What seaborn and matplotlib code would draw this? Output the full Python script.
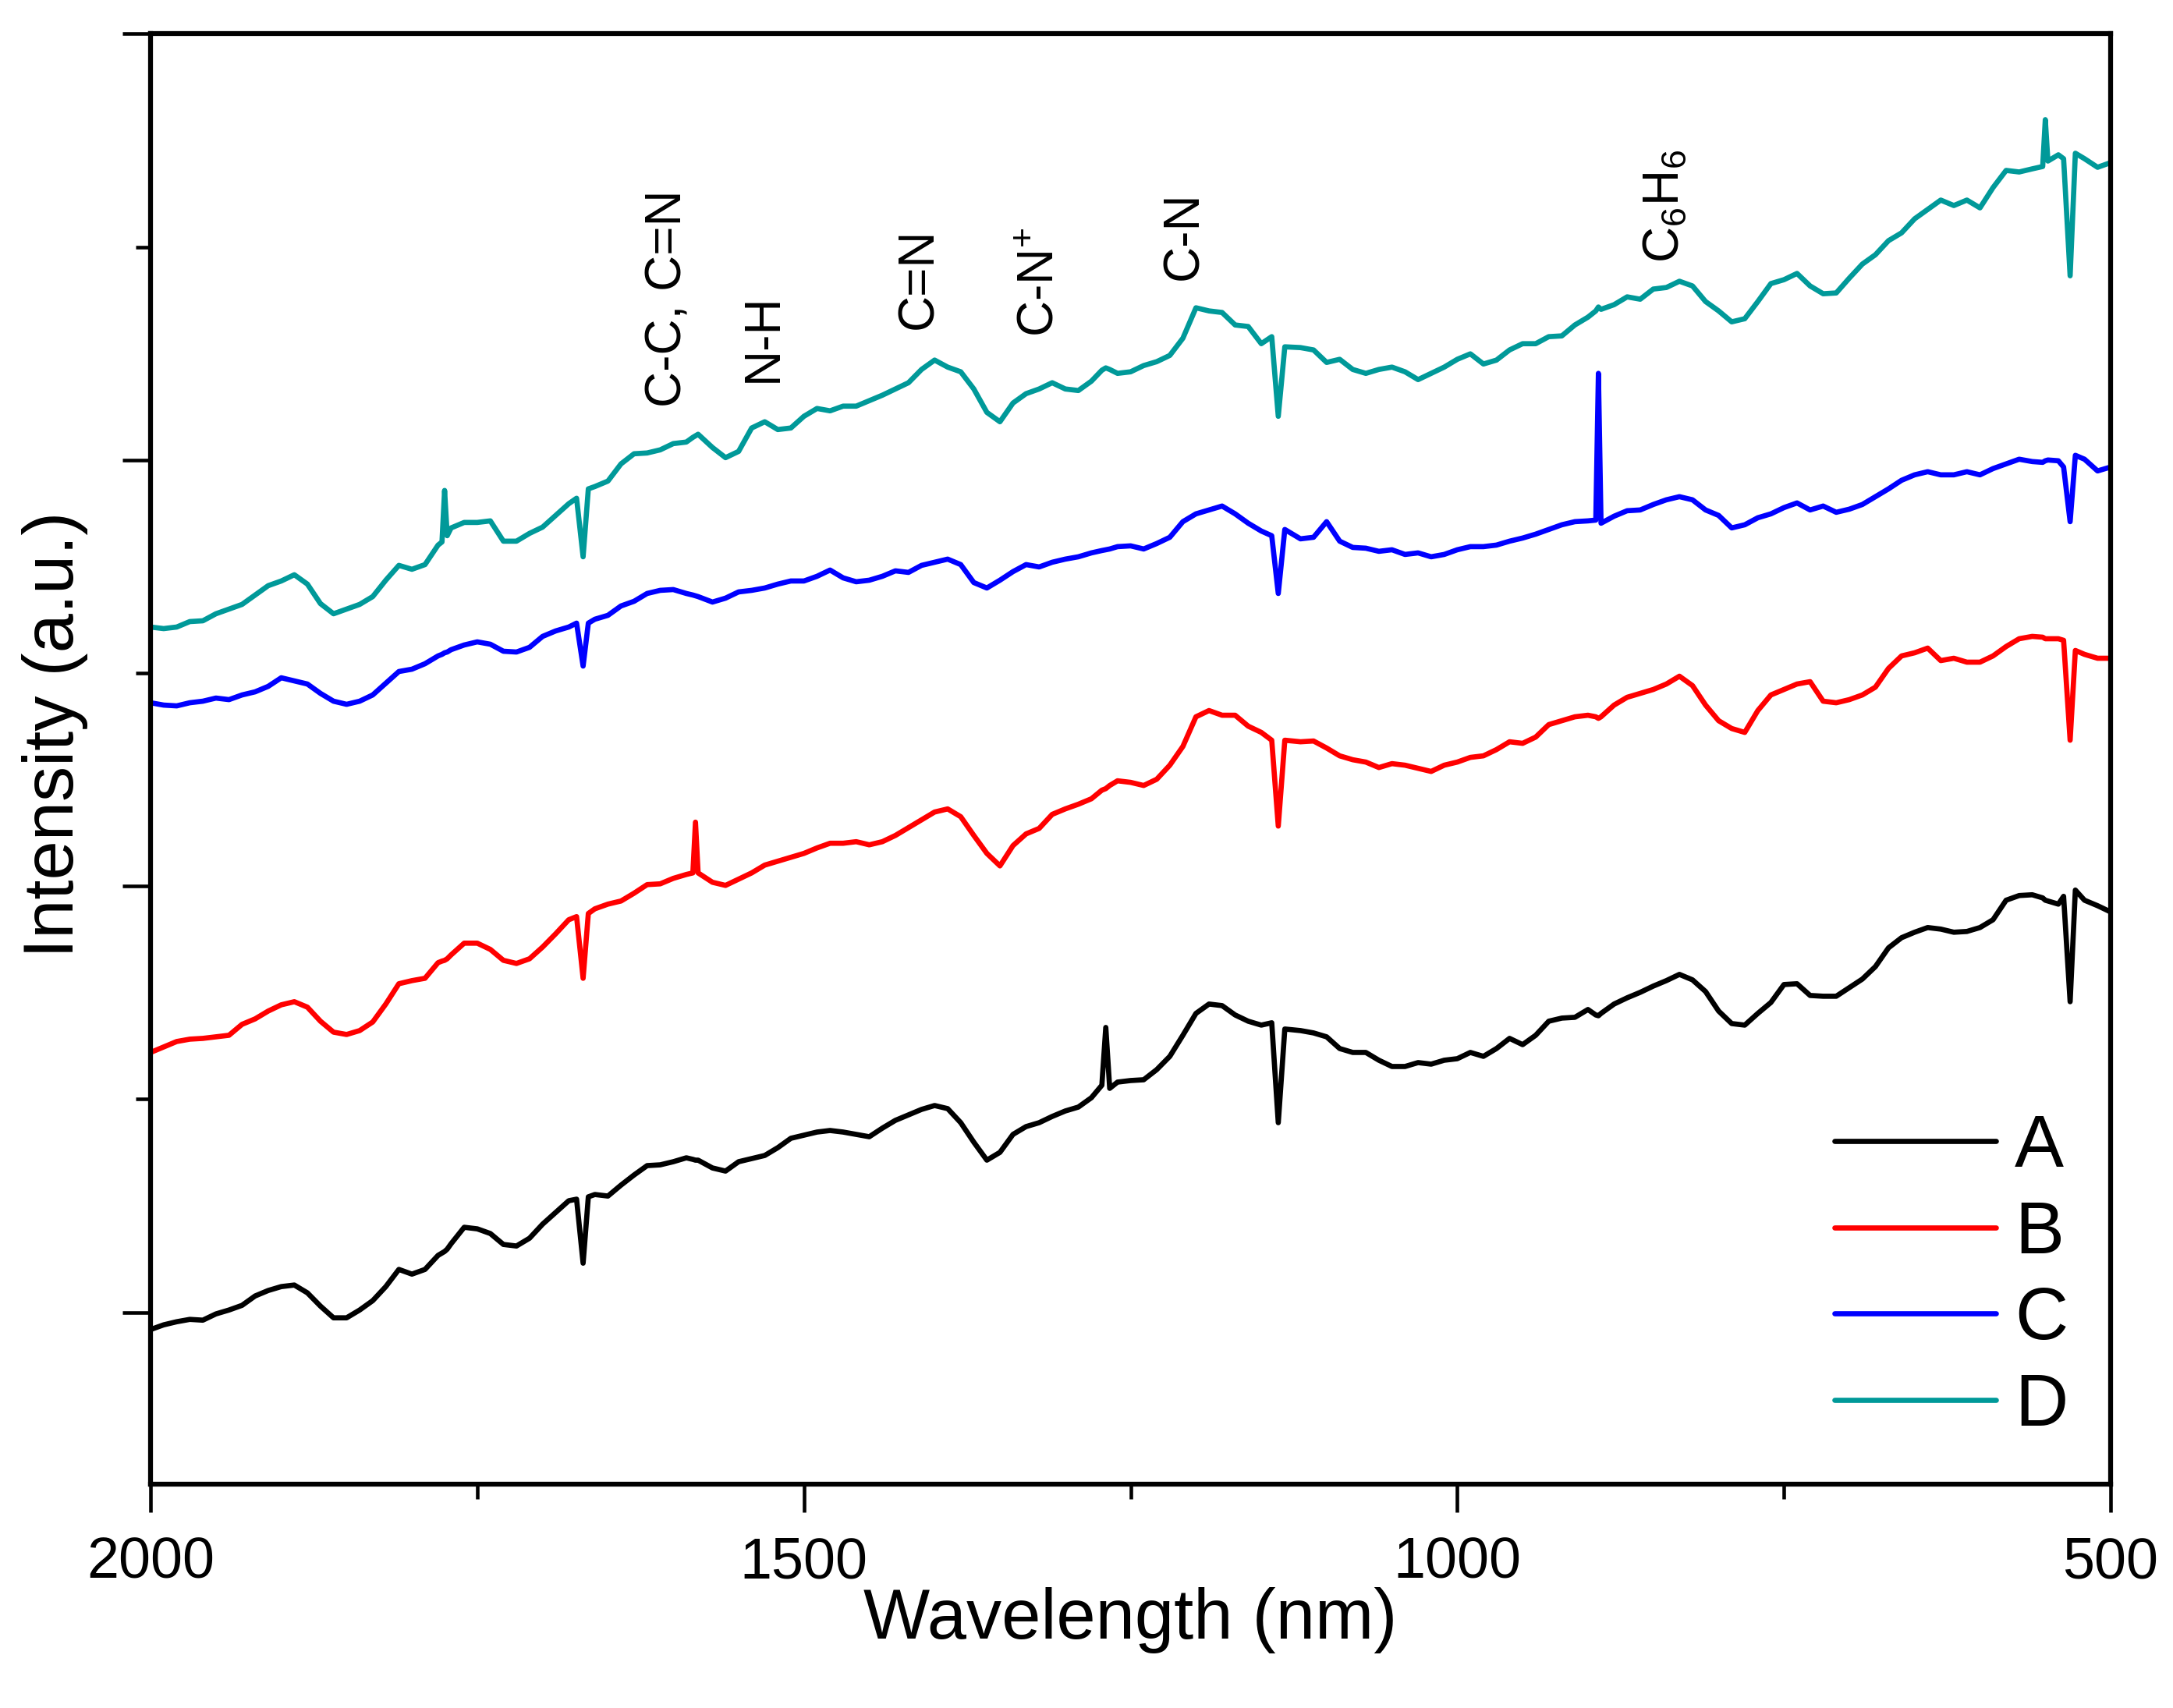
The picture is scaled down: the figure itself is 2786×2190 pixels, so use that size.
import numpy as np
import pandas as pd
import matplotlib
matplotlib.use("Agg")
import matplotlib.pyplot as plt
from matplotlib.ticker import FixedLocator
import seaborn as sns

# spectra (intensity in arbitrary units)
wavelength = [
    2000, 1990, 1980, 1970, 1960, 1950, 1940, 1930, 1920, 1910,
    1900, 1890, 1880, 1870, 1860, 1850, 1840, 1830, 1820, 1810,
    1800, 1790, 1780, 1777, 1775, 1773, 1770, 1760, 1750, 1740,
    1730, 1720, 1710, 1700, 1690, 1680, 1674, 1669, 1665, 1660,
    1650, 1640, 1630, 1620,
    1610, 1600, 1590, 1585, 1583, 1581, 1570, 1560, 1550, 1540,
    1530, 1520, 1510, 1500, 1490, 1480, 1470, 1460, 1450, 1440,
    1430, 1420, 1410, 1400, 1390, 1380, 1370, 1360, 1350, 1340,
    1330, 1320, 1310, 1300, 1290, 1280, 1272, 1269, 1266, 1260,
    1250,
    1240, 1230, 1220, 1210, 1200, 1190, 1180, 1170, 1160, 1150,
    1142, 1137, 1132, 1120, 1110, 1100, 1090, 1080, 1070, 1060,
    1050, 1040, 1030, 1020, 1010, 1000, 990, 980, 970, 960,
    950, 940, 930, 920, 910, 900, 894, 892, 890, 880,
    870,
    860, 850, 840, 830, 820, 810, 800, 790, 780, 770,
    760, 750, 740, 730, 720, 710, 700, 690, 680, 670,
    660, 650, 640, 630, 620, 610, 600, 590, 580, 570,
    560, 552, 550, 548, 540, 536, 531, 527, 520, 510,
    500]

int_A = [
    -22, -16, -12, -9, -10, -2, 3, 9, 21, 28,
    33, 35, 25, 8, -7, -7, 3, 15, 33, 55,
    49, 55, 73, 76, 78, 81, 88, 109, 107, 101,
    87, 85, 95, 113, 128, 143, 145, 63, 148, 151,
    149, 163, 176, 188,
    189, 193, 198, 196, 195, 195, 185, 181, 193, 197,
    201, 211, 223, 227, 231, 233, 231, 228, 225, 236,
    246, 253, 260, 265, 261, 243, 218, 195, 205, 228,
    238, 243, 251, 258, 263, 275, 291, 365, 287, 295,
    297,
    298, 311, 328, 355, 383, 395, 393, 381, 373, 368,
    371, 243, 363, 361, 358, 353, 338, 333, 333, 323,
    315, 315, 320, 318, 323, 325, 333, 328, 338, 351,
    343, 355, 373, 377, 378, 388, 381, 380, 383, 395,
    403,
    410, 418, 425, 433, 426, 411, 386, 370, 368, 383,
    397, 420, 421, 406, 405, 405, 416, 427, 443, 467,
    480, 487, 493, 491, 487, 488, 493, 503, 528, 534,
    535, 531, 528, 527, 523, 533, 398, 541, 528, 521,
    513]

int_B = [
    333, 340, 347, 350, 351, 353, 355, 369, 376, 386,
    394, 398, 391, 373, 359, 356, 361, 372, 395, 421,
    425, 428, 448, 450, 451, 453, 458, 473, 473, 465,
    451, 447, 453, 468, 485, 503, 507, 428, 511, 517,
    523, 527, 537, 548,
    549, 556, 561, 563, 628, 563, 551, 547, 555, 563,
    573, 578, 583, 588, 595, 601, 601, 603, 599, 603,
    611, 621, 631, 641, 645, 635, 611, 588, 572, 598,
    613, 620, 638, 645, 651, 658, 669, 671, 675, 681,
    679,
    675, 683, 701, 725, 763, 771, 765, 765, 751, 743,
    733, 623, 733, 731, 732, 723, 713, 708, 705, 698,
    703, 701, 697, 693, 701, 705, 711, 713, 721, 731,
    729, 737, 753, 758, 763, 765, 763, 761, 763, 778,
    788,
    793, 798, 805, 815, 803, 778, 758, 748, 743, 771,
    791, 798, 805, 808, 783, 781, 785, 791, 801, 825,
    841, 845, 851, 835, 838, 833, 833, 841, 853, 863,
    866, 865, 863, 863, 863, 861, 733, 848, 843, 838,
    838]

int_C = [
    781, 778, 777, 781, 783, 787, 785, 791, 795, 802,
    813, 809, 805, 793, 783, 779, 783, 791, 806, 821,
    824, 831, 841, 843, 845, 846, 849, 855, 859, 856,
    847, 846, 852, 866, 873, 878, 883, 828, 883, 888,
    893, 905, 911, 921,
    925, 926, 921, 919, 918, 917, 910, 915, 923, 925,
    928, 933, 937, 937, 943, 951, 941, 936, 938, 943,
    950, 948, 957, 961, 965, 958, 935, 928, 938, 949,
    958, 955, 961, 965, 968, 973, 976, 977, 978, 981,
    982,
    978, 985, 993, 1013, 1023, 1028, 1033, 1023, 1011, 1001,
    995, 921, 1003, 991, 993, 1013, 988, 980, 979, 975,
    977, 971, 973, 968, 971, 977, 981, 981, 983, 988,
    992, 997, 1003, 1009, 1013, 1014, 1015, 1203, 1011, 1020,
    1027,
    1028, 1035, 1041, 1045, 1041, 1028, 1021, 1005, 1009, 1018,
    1023, 1031, 1037, 1028, 1033, 1025, 1029, 1035, 1045, 1055,
    1066, 1073, 1077, 1073, 1073, 1077, 1073, 1081, 1087, 1093,
    1090, 1089, 1091, 1092, 1091, 1083, 1013, 1098, 1093, 1078,
    1083]

int_D = [
    878, 876, 878, 885, 886, 895, 901, 907, 919, 931,
    937, 945, 933, 908, 895, 901, 907, 917, 938, 957,
    952, 958, 983, 987, 1053, 995, 1005, 1012, 1012, 1014,
    988, 988, 998, 1006, 1021, 1036, 1043, 968, 1055, 1058,
    1065, 1087, 1100, 1101,
    1105, 1113, 1115, 1121, 1123, 1125, 1108, 1095, 1103, 1133,
    1141, 1131, 1133, 1148, 1158, 1155, 1161, 1161, 1168, 1175,
    1183, 1191, 1208, 1220, 1211, 1205, 1183, 1153, 1141, 1165,
    1177, 1183, 1191, 1183, 1181, 1193, 1207, 1210, 1208, 1203,
    1205,
    1213, 1218, 1226, 1248, 1287, 1283, 1281, 1265, 1263, 1241,
    1250, 1148, 1237, 1236, 1233, 1217, 1221, 1208, 1203, 1208,
    1211, 1205, 1195, 1203, 1211, 1221, 1228, 1215, 1220, 1233,
    1241, 1241, 1250, 1251, 1265, 1275, 1283, 1288, 1285, 1291,
    1301,
    1298, 1311, 1313, 1321, 1315, 1295, 1283, 1269, 1273, 1295,
    1318, 1323, 1331, 1315, 1305, 1306, 1325, 1343, 1355, 1373,
    1383, 1401, 1413, 1425, 1418, 1425, 1415, 1441, 1463, 1461,
    1465, 1468, 1528, 1475, 1483, 1478, 1328, 1485, 1478, 1467,
    1473]

samples = ["A", "B", "C", "D"]
colors = ["#000000", "#FF0000", "#0000FF", "#009999"]

x_major = [2000, 1500, 1000, 500]
x_minor = [1750, 1250, 750]
y_major = [0, 546, 1092, 1638]
y_minor = [273, 819, 1365]

peak_labels = ["C-C, C=N", "N-H", "C=N", "C-N$^{+}$", "C-N", "C$_6$H$_6$"]
peak_x = [1604, 1531, 1412, 1319, 1209, 841]
peak_y = [1160, 1192, 1260, 1250, 1323, 1345]

df = pd.DataFrame({
    "wavelength": wavelength * 4,
    "intensity": int_A + int_B + int_C + int_D,
    "sample": np.repeat(samples, len(wavelength)),
})

sns.set_style("ticks")
plt.rcParams["font.family"] = ["Liberation Sans", "DejaVu Sans"]
plt.rcParams["mathtext.default"] = "regular"
plt.rcParams["text.color"] = "black"
plt.rcParams["axes.labelcolor"] = "black"
plt.rcParams["xtick.color"] = "black"
plt.rcParams["ytick.color"] = "black"

fig = plt.figure(figsize=(27.86, 21.90), dpi=100)
ax = fig.add_axes([0.0693, 0.1311, 0.9020, 0.8491])

sns.lineplot(data=df, x="wavelength", y="intensity", hue="sample",
             hue_order=samples, palette=colors, estimator=None, sort=False,
             linewidth=4.8, legend=False, ax=ax)

ax.set_xlim(2000, 500)
ax.set_ylim(-220, 1638)

ax.xaxis.set_major_locator(FixedLocator(x_major))
ax.xaxis.set_minor_locator(FixedLocator(x_minor))
ax.yaxis.set_major_locator(FixedLocator(y_major))
ax.yaxis.set_minor_locator(FixedLocator(y_minor))

ax.tick_params(which="major", direction="out", length=26, width=3.3,
               labelsize=53, pad=22)
ax.tick_params(which="minor", direction="out", length=14, width=3.3)
ax.tick_params(which="both", top=False, right=False)
ax.tick_params(axis="y", which="both", labelleft=False)

for sp in ax.spines.values():
    sp.set_visible(True)
    sp.set_linewidth(4.5)
    sp.set_color("black")

ax.set_xlabel("Wavelength (nm)", fontsize=65)
ax.set_ylabel("Intensity (a.u.)", fontsize=65)
ax.xaxis.set_label_coords(0.5, -0.071)
ax.yaxis.set_label_coords(-0.032, 0.517)

for lab, px, py in zip(peak_labels, peak_x, peak_y):
    ax.text(px, py, lab, rotation=90, ha="center", va="bottom", fontsize=46)

ax.legend(ax.lines, samples, loc="upper left", bbox_to_anchor=(0.859, 0.256),
          frameon=False, fontsize=68, handlelength=2.2, handletextpad=0.25,
          labelspacing=0.23, borderpad=0, borderaxespad=0)

fig.savefig("out.png", dpi=100)
